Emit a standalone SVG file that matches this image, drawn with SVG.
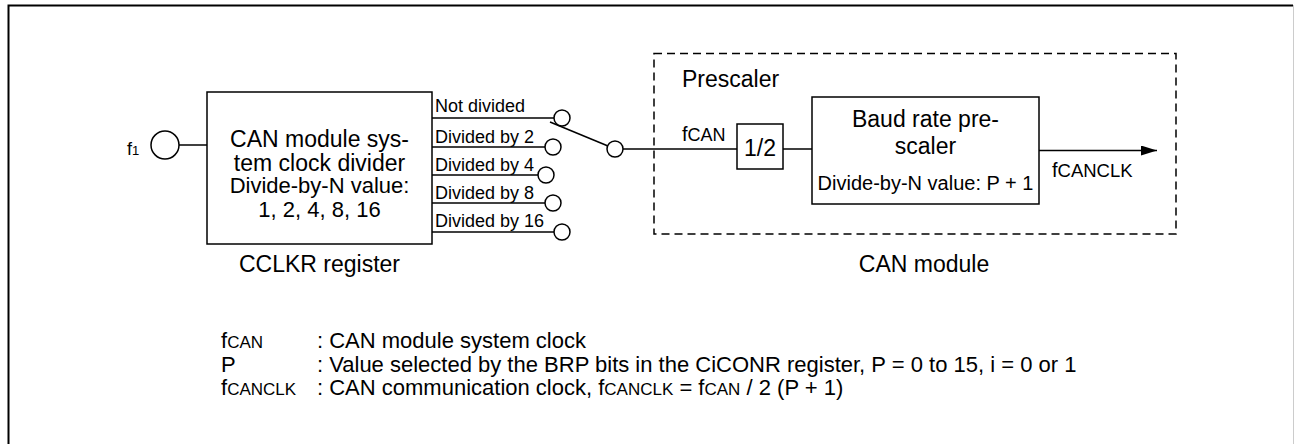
<svg xmlns="http://www.w3.org/2000/svg" width="1294" height="444" viewBox="0 0 1294 444">
<style>
text{font-family:"Liberation Sans",Arial,sans-serif;fill:#000}
.t23{font-size:23px}
.t22{font-size:22px}
.t20{font-size:20px}
.t18{font-size:18px}
.sub{font-size:17px}
.ln{stroke:#000;stroke-width:1.5;fill:none}
.box{stroke:#000;stroke-width:1.5;fill:#fff}
.term{stroke:#000;stroke-width:1.5;fill:#fff}
.dash{stroke:#000;stroke-width:1.5;fill:none;stroke-dasharray:8 5}
</style>
<defs>
<marker id="arr" markerWidth="16" markerHeight="10" refX="16" refY="5" orient="auto" markerUnits="userSpaceOnUse">
<path d="M0,0 L16,5 L0,10 Z" fill="#000"/>
</marker>
</defs>
<rect width="1294" height="444" fill="#fff"/>
<path d="M8.5,444 V5.5 H1293" stroke="#000" stroke-width="2" fill="none"/>
<line x1="1293.5" y1="5" x2="1293.5" y2="444" stroke="#ccc" stroke-width="1"/>

<g id="prescaler-frame">
<rect class="dash" x="654" y="53.5" width="522" height="180.5"/>
<text class="t23" x="682" y="87">Prescaler</text>
<text class="t23" x="924" y="272" text-anchor="middle">CAN module</text>
</g>

<g id="connectors">
<line class="ln" x1="179" y1="145" x2="207" y2="145"/>
<line class="ln" x1="432" y1="118" x2="554" y2="118"/>
<line class="ln" x1="432" y1="147" x2="545" y2="147"/>
<line class="ln" x1="432" y1="175" x2="538" y2="175"/>
<line class="ln" x1="432" y1="203" x2="545" y2="203"/>
<line class="ln" x1="432" y1="232" x2="554" y2="232"/>
<line class="ln" x1="550" y1="122" x2="608" y2="146"/>
<line class="ln" x1="623" y1="149" x2="737" y2="149"/>
<line class="ln" x1="783" y1="149" x2="812" y2="149"/>
<line class="ln" x1="1039" y1="150.5" x2="1157" y2="150.5" marker-end="url(#arr)"/>
</g>

<g id="f1-input">
<circle class="term" cx="165" cy="145" r="14"/>
<text x="127" y="155"><tspan class="t18">f</tspan><tspan style="font-size:13px">1</tspan></text>
</g>

<g id="cclkr-divider">
<rect class="box" x="207" y="92" width="225" height="152"/>
<text class="t23" x="319.5" y="147" text-anchor="middle">CAN module sys-</text>
<text class="t23" x="319.5" y="171" text-anchor="middle">tem clock divider</text>
<text class="t22" x="319.5" y="193" text-anchor="middle">Divide-by-N value:</text>
<text class="t22" x="319.5" y="217" text-anchor="middle">1, 2, 4, 8, 16</text>
<text class="t23" x="319.5" y="272" text-anchor="middle">CCLKR register</text>
</g>

<g id="switch">
<text class="t18" x="435" y="112">Not divided</text>
<text class="t18" x="435" y="143">Divided by 2</text>
<text class="t18" x="435" y="171">Divided by 4</text>
<text class="t18" x="435" y="199">Divided by 8</text>
<text class="t18" x="435" y="227">Divided by 16</text>
<circle class="term" cx="562" cy="118" r="8"/>
<circle class="term" cx="553" cy="147" r="8"/>
<circle class="term" cx="546" cy="175" r="8"/>
<circle class="term" cx="553" cy="203" r="8"/>
<circle class="term" cx="562" cy="232" r="8"/>
<circle class="term" cx="615" cy="149" r="8"/>
</g>

<g id="fcan-label">
<text x="682" y="141"><tspan class="t20">f</tspan><tspan style="font-size:18px">CAN</tspan></text>
</g>

<g id="half-divider">
<rect class="box" x="737" y="124" width="46" height="45"/>
<text class="t23" x="760" y="156" text-anchor="middle">1/2</text>
</g>

<g id="baud-prescaler">
<rect class="box" x="812" y="97" width="227" height="107"/>
<text class="t23" x="925.5" y="127" text-anchor="middle">Baud rate pre-</text>
<text class="t23" x="925.5" y="154" text-anchor="middle">scaler</text>
<text class="t20" x="925.5" y="190" text-anchor="middle">Divide-by-N value: P + 1</text>
</g>

<g id="fcanclk-label">
<text x="1052" y="177"><tspan class="t20">f</tspan><tspan style="font-size:18.5px">CANCLK</tspan></text>
</g>

<g id="legend">
<text x="221" y="348"><tspan class="t22">f</tspan><tspan class="sub">CAN</tspan></text>
<text class="t22" x="317" y="348">: CAN module system clock</text>
<text class="t22" x="221" y="372">P</text>
<text class="t22" x="317" y="372">: Value selected by the BRP bits in the CiCONR register, P = 0 to 15, i = 0 or 1</text>
<text x="221" y="395"><tspan class="t22">f</tspan><tspan class="sub">CANCLK</tspan></text>
<text class="t22" x="317" y="395">: CAN communication clock, f<tspan class="sub">CANCLK</tspan> = f<tspan class="sub">CAN</tspan> / 2 (P + 1)</text>
</g>
</svg>
